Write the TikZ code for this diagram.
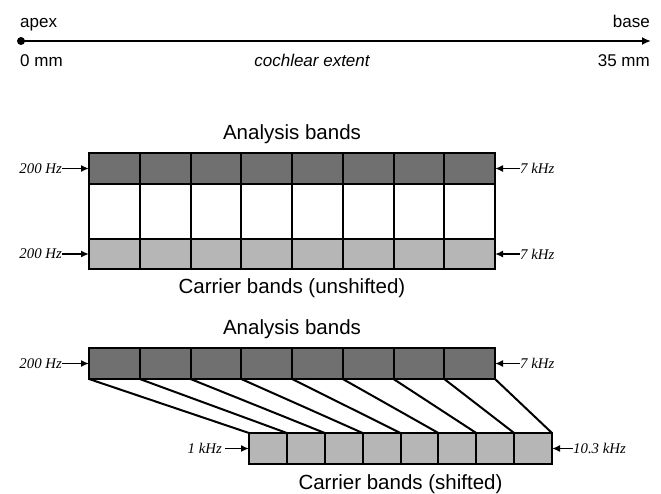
\documentclass[tikz,border=0pt]{standalone}
\usepackage{fontspec}
\setmainfont{Liberation Sans}
\newfontfamily\tms{Liberation Serif}
\usetikzlibrary{arrows.meta}
\definecolor{bandDark}{RGB}{112,112,112}
\definecolor{bandLight}{RGB}{182,182,182}

\begin{document}
\begin{tikzpicture}[
  x=1pt, y=-1pt,
  cell/.style={draw, line width=2pt, inner sep=0pt, outer sep=0pt, anchor=north west},
  wide/.style={cell, minimum width=50.75pt},
  narrow/.style={cell, minimum width=37.875pt},
  title/.style={font=\fontsize{20.5}{24}\selectfont, anchor=base},
  axlab/.style={font=\fontsize{17}{20}\selectfont, inner sep=0pt},
  freq/.style={font=\fontsize{14.8}{17}\tms\itshape, inner sep=0pt},
  ar/.style={-{Latex[length=8pt,width=7pt]}, line width=1.8pt},
  link/.style={line width=2pt}
]
\useasboundingbox (0,0) rectangle (661,493);
\node[circle, fill, inner sep=0pt, minimum size=8pt] (apexpt) at (21,41) {};
\coordinate (basept) at (651,41);
\draw[-{Latex[length=9pt,width=8pt]}, line width=2.2pt] (apexpt.center) -- (basept);
\node[axlab, anchor=base west] (apex) at (20,27) {apex};
\node[axlab, anchor=base east] (base) at (650,27) {base};
\node[axlab, anchor=base west] (zero) at (20,66) {0 mm};
\node[axlab, anchor=base] (extent) at (312,66) {\itshape cochlear extent};
\node[axlab, anchor=base east] (full) at (650,66) {35 mm};
\foreach \i in {0,...,7} {
  \node[wide, fill=bandDark, minimum height=31pt] (ua\i) at ({89+50.75*\i},153) {};
  \node[wide, fill=white, minimum height=55pt] (um\i) at ({89+50.75*\i},184) {};
  \node[wide, fill=bandLight, minimum height=30pt] (uc\i) at ({89+50.75*\i},239) {};
  \node[wide, fill=bandDark, minimum height=31pt] (la\i) at ({89+50.75*\i},348) {};
  \node[narrow, fill=bandLight, minimum height=31pt] (lc\i) at ({249+37.875*\i},433) {};
}
\foreach \i in {0,...,7}
  \draw[link] (la\i.south west) -- (lc\i.north west);
\draw[link] (la7.south east) -- (lc7.north east);
\node[title] (uatitle) at (292,139.5) {Analysis bands};
\node[title] (uctitle) at (292,293.5) {Carrier bands (unshifted)};
\node[title] (latitle) at (292,334) {Analysis bands};
\node[title] (lctitle) at (400.5,489.5) {Carrier bands (shifted)};
\node[freq, anchor=east] (f1) at (62,168.5) {200 Hz};
\node[freq, anchor=east] (f2) at (62,254) {200 Hz};
\node[freq, anchor=east] (f3) at (62,363.5) {200 Hz};
\node[freq, anchor=east] (f4) at (222,448.5) {1 kHz};
\node[freq, anchor=west] (f5) at (520,168.5) {7 kHz};
\node[freq, anchor=west] (f6) at (520,254) {7 kHz};
\node[freq, anchor=west] (f7) at (520,363.5) {7 kHz};
\node[freq, anchor=west] (f8) at (573,448.5) {10.3 kHz};
\draw[ar] (f1.east) -- (ua0.west);
\draw[ar] (f2.east) -- (uc0.west);
\draw[ar] (f3.east) -- (la0.west);
\draw[ar] ([xshift=3pt]f4.east) -- (lc0.west);
\draw[ar] (f5.west) -- (ua7.east);
\draw[ar] (f6.west) -- (uc7.east);
\draw[ar] (f7.west) -- (la7.east);
\draw[ar] (f8.west) -- (lc7.east);
\end{tikzpicture}
\end{document}
